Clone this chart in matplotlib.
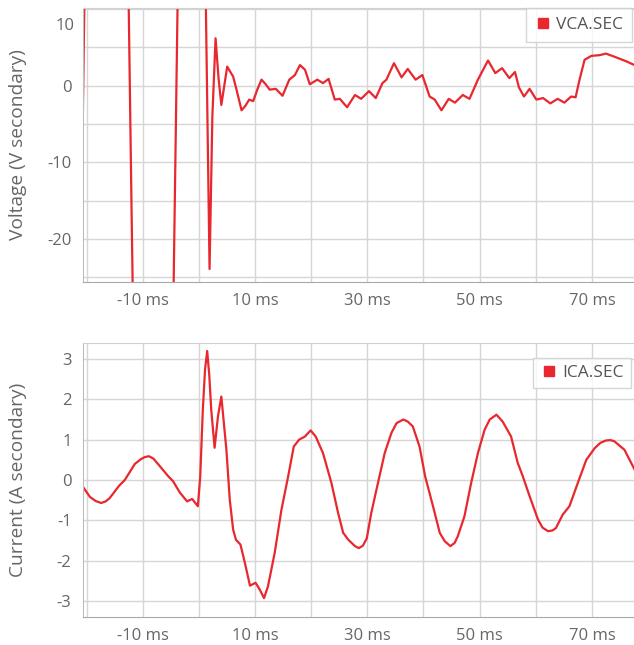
import numpy as np
import matplotlib
matplotlib.use("Agg")
import matplotlib.pyplot as plt
from matplotlib.lines import Line2D
from matplotlib.ticker import FuncFormatter, MultipleLocator, FixedLocator

plt.rcParams['font.family'] = ['Open Sans', 'DejaVu Sans']

# VCA.SEC, time in ms, volts secondary (pre-fault part goes off scale)
t_volt = [-21, -20, -19, -18, -17, -16, -15, -14, -13, -12, -11, -10, -9, -8,
          -7, -6, -5, -4, -3, -2, -1, 0, 1.0, 1.9, 2.4, 2.97, 3.5, 4.0, 5.04,
          6.1, 6.7, 7.6, 8.3, 8.96, 9.67, 10.4, 11.15, 11.9, 12.6, 13.7, 14.9,
          16.1, 17.1, 18.0, 18.9, 19.75, 21.1, 22.1, 23.1, 24.2, 25.1, 26.4,
          27.8, 28.9, 30.3, 31.5, 32.7, 33.4, 34.75, 36.1, 37.2, 38.6, 39.8,
          41.1, 42.0, 43.2, 44.5, 45.6, 47.0, 48.2, 49.7, 51.5, 52.8, 54.0,
          55.3, 56.3, 57.0, 57.9, 58.9, 60.1, 61.3, 62.6, 63.9, 65.1, 66.3,
          67.1, 67.8, 68.7, 69.9, 71.4, 72.5, 74.0, 76.1, 77.6]
v_volt = [-21.1, 31.5, 79.7, 116.6, 136.9, 138.0, 119.4, 83.9, 36.6, -15.8,
          -65.7, -107.4, -132.8, -139.8, -127.0, -96.1, -51.8, 0.0, 51.7,
          96.1, 126.9, 139.8, 23.0, -23.9, -4.0, 6.2, 1.0, -2.5, 2.5,
          1.2, -0.5, -3.2, -2.6, -1.8, -2.0, -0.5, 0.8, 0.2, -0.5, -0.4, -1.3,
          0.8, 1.4, 2.7, 2.1, 0.2, 0.8, 0.35, 0.9, -1.8, -1.7, -2.8,
          -1.2, -1.7, -0.7, -1.6, 0.35, 0.8, 2.95, 1.1, 2.2, 0.8, 1.4,
          -1.4, -1.8, -3.2, -1.7, -2.2, -1.2, -1.7, 0.8, 3.3, 1.65, 2.3,
          1.0, 1.8, -0.2, -1.4, -0.4, -1.8, -1.6, -2.3, -1.7, -2.2, -1.4,
          -1.5, 0.8, 3.4, 3.9, 4.0, 4.2, 3.8, 3.2, 2.7]

# ICA.SEC, time in ms, amps secondary
t_curr = [-20.7, -19.4, -18.4, -17.4, -16.6, -15.9, -14.2, -13.2, -11.4, -10.3,
          -9.6, -8.9, -8.1, -7.3, -5.5, -4.6, -3.4, -2.1, -1.2, -0.18, 0.24, 0.7,
          1.1, 1.48, 1.85, 2.2, 2.8, 3.4, 4.0, 4.9, 5.5, 6.1, 6.6, 7.4, 8.2, 9.1,
          10.1, 10.85, 11.6, 12.3, 13.5, 14.7, 15.9, 16.9, 17.85, 18.9, 19.9,
          20.8, 22.1, 23.6, 24.8, 25.7, 26.6, 27.8, 28.5, 29.2, 29.9, 30.7, 31.9,
          33.1, 34.3, 35.2, 36.4, 37.2, 38.1, 39.3, 40.3, 41.7, 42.9, 43.8, 44.8,
          45.55, 46.1, 47.3, 48.5, 49.7, 50.9, 51.8, 53.0, 54.1, 55.6, 56.8, 57.7,
          58.9, 60.4, 61.2, 62.2, 63.0, 63.6, 64.8, 66.0, 67.5, 69.0, 70.5, 71.5,
          72.5, 73.3, 74.0, 75.8, 77.6]
i_curr = [-0.16, -0.42, -0.52, -0.57, -0.53, -0.45, -0.14, 0.0, 0.4, 0.52,
          0.57, 0.59, 0.53, 0.4, 0.1, -0.03, -0.31, -0.53, -0.47, -0.65, 0.09, 1.74,
          2.75, 3.2, 2.6, 1.74, 0.8, 1.58, 2.07, 0.75, -0.49, -1.23, -1.48, -1.6,
          -2.06, -2.62, -2.55, -2.72, -2.93, -2.64, -1.81, -0.74, 0.09, 0.83, 1.0,
          1.08, 1.23, 1.08, 0.67, -0.07, -0.82, -1.31, -1.48, -1.64, -1.69, -1.63,
          -1.45, -0.82, -0.07, 0.67, 1.17, 1.41, 1.5, 1.45, 1.33, 0.83, 0.09, -0.65,
          -1.31, -1.52, -1.64, -1.56, -1.4, -0.9, -0.07, 0.67, 1.25, 1.5, 1.62,
          1.45, 1.08, 0.42, 0.09, -0.4, -0.98, -1.18, -1.27, -1.25, -1.19, -0.86,
          -0.65, -0.07, 0.5, 0.79, 0.92, 0.98, 0.99, 0.96, 0.75, 0.26]

x_ticks = [-20, -10, 0, 10, 20, 30, 40, 50, 60, 70]
x_labelled = [-10, 10, 30, 50, 70]

red = '#e8272e'
txt = '#666666'
grid_c = '#d6d6d6'

fig = plt.figure(figsize=(6.34, 6.45), dpi=100)
ax1 = fig.add_axes([0.1304, 0.5628, 0.8696, 0.4248])
ax2 = fig.add_axes([0.1304, 0.0439, 0.8696, 0.4238])


def xfmt(v, pos):
    if int(round(v)) in x_labelled:
        return '%d ms' % int(round(v))
    return ''


def style(ax, ylabel):
    ax.set_xlim(-20.7, 77.5)
    ax.xaxis.set_major_locator(FixedLocator(x_ticks))
    ax.xaxis.set_major_formatter(FuncFormatter(xfmt))
    ax.grid(True, color=grid_c, lw=1.0)
    ax.set_axisbelow(True)
    ax.tick_params(length=0, labelsize=12, colors=txt, pad=8)
    ax.spines['right'].set_visible(False)
    ax.spines['top'].set_color('#d0d0d0')
    ax.spines['left'].set_color('#bdbdbd')
    ax.spines['bottom'].set_color('#a8a8a8')
    ax.set_ylabel(ylabel, fontsize=13.8, color=txt)
    ax.yaxis.set_label_coords(-0.101, 0.5)


# voltage panel
ax1.plot(t_volt, v_volt, color=red, lw=1.6, solid_joinstyle='round')
style(ax1, 'Voltage (V secondary)')
ax1.set_ylim(-25.6, 10.15)
ax1.yaxis.set_major_locator(MultipleLocator(5))
ax1.yaxis.set_major_formatter(FuncFormatter(
    lambda v, p: '%d' % v if int(round(v)) % 10 == 0 and int(round(v)) != 10 else ''))
# top "10" label sits a little below its gridline, as in the source chart
ax1.annotate('10', xy=(0, 10), xycoords=ax1.get_yaxis_transform(),
             xytext=(-8, -17), textcoords='offset pixels',
             ha='right', va='center', fontsize=12, color=txt)

# current panel
ax2.plot(t_curr, i_curr, color=red, lw=1.6, solid_joinstyle='round')
style(ax2, 'Current (A secondary)')
ax2.set_ylim(-3.39, 3.39)
ax2.yaxis.set_major_locator(MultipleLocator(1))
ax2.yaxis.set_major_formatter(FuncFormatter(lambda v, p: '%d' % v))

# legends
h1 = Line2D([], [], color=red, marker='s', ls='none', markersize=7)
leg1 = ax1.legend([h1], ['VCA.SEC'], loc='upper right', bbox_to_anchor=(0.996, 1.0),
                  frameon=True, fancybox=False, fontsize=12.5, handletextpad=0.25,
                  borderpad=0.5, handlelength=1.0, borderaxespad=0)
leg1.get_frame().set_edgecolor('#cccccc')
leg1.get_frame().set_linewidth(1.0)
for tx in leg1.get_texts():
    tx.set_color('#555555')

h2 = Line2D([], [], color=red, marker='s', ls='none', markersize=7)
leg2 = ax2.legend([h2], ['ICA.SEC'], loc='upper right', bbox_to_anchor=(0.9946, 0.946),
                  frameon=True, fancybox=False, fontsize=12.5, handletextpad=0.3,
                  borderpad=0.4, handlelength=1.0, borderaxespad=0)
leg2.get_frame().set_edgecolor('#cccccc')
leg2.get_frame().set_linewidth(1.0)
for tx in leg2.get_texts():
    tx.set_color('#555555')

fig.savefig('out.png', dpi=100)
